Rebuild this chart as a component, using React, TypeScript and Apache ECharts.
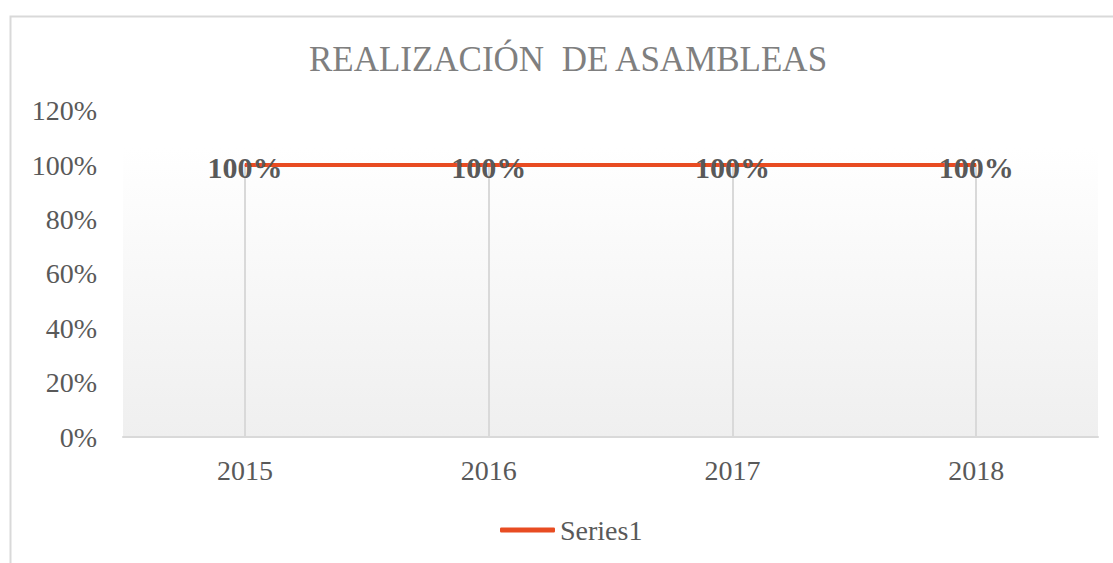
import React, { useEffect, useRef } from "react";
import * as echarts from "echarts";

const categories = ["2015", "2016", "2017", "2018"];
const series1 = [1, 1, 1, 1];
const yTicks = { min: 0, max: 1.2, interval: 0.2 };
const titleText = "REALIZACIÓN  DE ASAMBLEAS";
const seriesName = "Series1";

const FONT = "Times New Roman, Liberation Serif, serif";

export default function App() {
  const ref = useRef<HTMLDivElement>(null);
  useEffect(() => {
    const chart = echarts.init(ref.current!, undefined, { renderer: "svg" });
    const pct = (v: number) => `${Math.round(v * 100)}%`;
    chart.setOption({
      animation: false,
      backgroundColor: "#ffffff",
      textStyle: { fontFamily: FONT },
      title: {
        text: titleText,
        left: 563,
        top: 37,
        textAlign: "center",
        textStyle: { fontFamily: FONT, fontSize: 35, fontWeight: "normal", color: "#7f7f7f" },
      },
      graphic: [
        {
          type: "rect",
          z: -10,
          shape: { x: 10.5, y: 16.5, width: 1200, height: 700 },
          style: { fill: "none", stroke: "#d9d9d9", lineWidth: 2 },
          silent: true,
        },
        {
          type: "rect",
          z: -10,
          shape: { x: 123, y: 148, width: 975, height: 289 },
          style: {
            fill: new echarts.graphic.LinearGradient(0, 0, 0, 1, [
              { offset: 0, color: "#ffffff" },
              { offset: 1, color: "#efefef" },
            ]),
          },
          silent: true,
        },
      ],
      legend: {
        show: true,
        left: 495,
        top: 511,
        icon: "roundRect",
        itemWidth: 55,
        itemHeight: 5,
        itemGap: 10,
        textStyle: { fontFamily: FONT, fontSize: 28, color: "#595959", padding: [0, 0, 0, 0] },
        data: [{ name: seriesName, itemStyle: { color: "#E84C22" } }],
      },
      grid: { left: 123, right: 15, top: 110.6, bottom: 126, containLabel: false },
      xAxis: {
        type: "category",
        data: categories,
        boundaryGap: true,
        axisLine: { show: true, lineStyle: { color: "#d9d9d9", width: 2 } },
        axisTick: { show: false },
        splitLine: { show: false },
        axisLabel: { fontFamily: FONT, fontSize: 28, color: "#595959", margin: 19 },
      },
      yAxis: {
        type: "value",
        min: yTicks.min,
        max: yTicks.max,
        interval: yTicks.interval,
        axisLine: { show: false },
        axisTick: { show: false },
        splitLine: { show: false },
        axisLabel: {
          fontFamily: FONT,
          fontSize: 28,
          color: "#595959",
          margin: 26,
          formatter: (v: number) => pct(v),
        },
      },
      series: [
        {
          name: seriesName,
          type: "line",
          data: series1,
          symbol: "circle",
          symbolSize: 1,
          showSymbol: true,
          itemStyle: { color: "#E84C22" },
          lineStyle: { color: "#E84C22", width: 4 },
          z: 3,
          label: {
            show: true,
            position: "inside",
            offset: [0, 2],
            fontFamily: FONT,
            fontSize: 30,
            fontWeight: "bold",
            color: "#595959",
            formatter: (p: any) => pct(p.value),
          },
          markLine: {
            silent: true,
            symbol: "none",
            z: 1,
            label: { show: false },
            lineStyle: { color: "#d9d9d9", width: 2, type: "solid" },
            data: categories.map((c, i) => [
              { coord: [c, 0] },
              { coord: [c, series1[i]] },
            ]),
          },
        },
      ],
    });
    return () => chart.dispose();
  }, []);
  return (
    <div
      ref={ref}
      style={{ position: "fixed", left: 0, top: 0, width: 1113, height: 563 }}
    />
  );
}
